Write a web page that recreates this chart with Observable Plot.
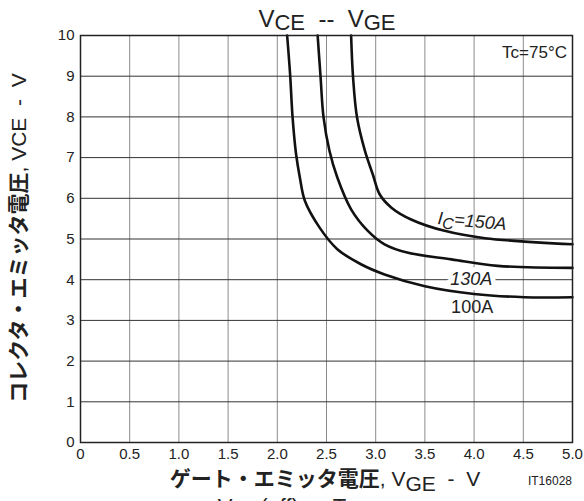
<!DOCTYPE html>
<html><head><meta charset="utf-8">
<script src="https://cdn.jsdelivr.net/npm/d3@7"></script>
<script src="https://cdn.jsdelivr.net/npm/@observablehq/plot@0.6"></script>
<style>body{margin:0;background:#fff;} svg{display:block;}</style>
</head><body><div id="chart"></div>
<script>
const vge100 = [2.10, 2.13, 2.155, 2.19, 2.23, 2.28, 2.43, 2.61, 2.85, 3.09, 3.50, 4.00, 4.51, 5.00];
const vce100 = [10, 9.05, 8.0, 7.1, 6.5, 5.94, 5.28, 4.75, 4.38, 4.13, 3.84, 3.65, 3.57, 3.57];
const vge130 = [2.41, 2.44, 2.47, 2.53, 2.61, 2.75, 2.92, 3.09, 3.33, 3.77, 4.24, 5.00];
const vce130 = [10, 8.97, 7.99, 7.17, 6.51, 5.73, 5.20, 4.87, 4.66, 4.50, 4.34, 4.29];
const vge150 = [2.75, 2.77, 2.81, 2.89, 2.97, 3.04, 3.16, 3.36, 3.70, 4.11, 5.00];
const vce150 = [10, 8.97, 7.99, 7.17, 6.59, 6.10, 5.77, 5.48, 5.20, 5.02, 4.87];
const xTicks = [0, 0.5, 1.0, 1.5, 2.0, 2.5, 3.0, 3.5, 4.0, 4.5, 5.0];
const xTickLabels = ["0", "0.5", "1.0", "1.5", "2.0", "2.5", "3.0", "3.5", "4.0", "4.5", "5.0"];
const yTicks = [0,1,2,3,4,5,6,7,8,9,10];

const series = [
  {name: "150A", x: vge150, y: vce150},
  {name: "130A", x: vge130, y: vce130},
  {name: "100A", x: vge100, y: vce100}
];
const rows = series.flatMap(s => s.x.map((v, i) => ({s: s.name, x: v, y: s.y[i]})));

const font = "'Liberation Sans', Arial, sans-serif";
const plot = Plot.plot({
  width: 584, height: 501,
  marginLeft: 80, marginRight: 12, marginTop: 35, marginBottom: 59,
  x: {domain: [0, 5]},
  y: {domain: [0, 10]},
  style: {fontFamily: font, fontSize: "15px", color: "#222", background: "#fff"},
  marks: [
    Plot.ruleX(xTicks.filter(d => d > 0 && d < 5), {stroke: "#8c8c8c", strokeWidth: 1}),
    Plot.ruleY(yTicks.filter(d => d > 0 && d < 10), {stroke: "#333", strokeWidth: 1}),
    Plot.text([{x: 3.97, y: 4.0}], {x: "x", y: "y", text: () => "130A", fill: "#222", stroke: "white", strokeWidth: 10, fontSize: 18, fontStyle: "italic"}),
    Plot.line(rows, {x: "x", y: "y", z: "s", curve: "catmull-rom", stroke: "#111", strokeWidth: 2.6}),
    Plot.frame({stroke: "#222", strokeWidth: 1.5}),
    Plot.axisX({ticks: xTicks, tickFormat: (d) => xTickLabels[xTicks.indexOf(d)], tickSize: 0, tickPadding: 6, fontSize: 15, label: null}),
    Plot.axisY({ticks: yTicks, tickSize: 0, tickPadding: 6, fontSize: 15, label: null}),
    Plot.text([{x: 3.98, y: 3.33}], {x: "x", y: "y", text: () => "100A", fill: "#222", fontSize: 18})
  ]
});
document.getElementById("chart").appendChild(plot);

const svg = d3.select(plot);
const jp = "'Noto Sans CJK JP', sans-serif";

// title
const t = svg.append("text").attr("x", 327).attr("y", 27).attr("text-anchor", "middle")
  .attr("font-family", font).attr("font-size", 24).attr("fill", "#222");
t.append("tspan").text("V");
t.append("tspan").attr("dy", 3).attr("font-size", 22).text("CE");
t.append("tspan").attr("dy", -3).attr("xml:space", "preserve").text("  --  ");
t.append("tspan").text("V");
t.append("tspan").attr("dy", 3).attr("font-size", 22).text("GE");

// fragment of the next chart's title at the bottom edge
const b = svg.append("text").attr("x", 282).attr("y", 514).attr("text-anchor", "middle")
  .attr("font-family", font).attr("font-size", 22).attr("fill", "#222");
b.append("tspan").text("V");
b.append("tspan").attr("dy", 4).attr("font-size", 20).text("CE");
b.append("tspan").attr("dy", -4).text("(off) — T");

// Tc label
svg.append("text").attr("x", 567).attr("y", 58).attr("text-anchor", "end")
  .attr("font-family", font).attr("font-size", 17).attr("fill", "#222").text("Tc=75°C");

// IC=150A label
const xs = d3.scaleLinear([0,5],[80,572]);
const ys = d3.scaleLinear([0,10],[442,35]);
const ic = svg.append("text").attr("transform", `translate(${xs(3.98)},${ys(5.28)}) rotate(5)`)
  .attr("text-anchor", "middle").attr("font-family", font).attr("font-size", 18)
  .attr("font-style", "italic").attr("fill", "#222");
ic.append("tspan").text("I");
ic.append("tspan").attr("dy", 4).attr("font-size", 16).text("C");
ic.append("tspan").attr("dy", -4).text("=150A");

// x label
const xl = svg.append("text").attr("x", 325).attr("y", 486).attr("text-anchor", "middle").attr("fill", "#222");
xl.append("tspan").attr("font-family", jp).attr("font-weight", "bold").attr("font-size", 21).text("ゲート・エミッタ電圧");
xl.append("tspan").attr("font-family", font).attr("font-size", 21).text(", V");
xl.append("tspan").attr("font-family", font).attr("font-size", 21).attr("dy", 5).text("GE");
xl.append("tspan").attr("font-family", font).attr("font-size", 21).attr("dy", -5).attr("xml:space", "preserve").text("  -  V");

svg.append("text").attr("x", 572).attr("y", 485).attr("text-anchor", "end")
  .attr("font-family", font).attr("font-size", 12).attr("fill", "#222").text("IT16028");

// y label
const yl = svg.append("text").attr("transform", "translate(26,238) rotate(-90)").attr("text-anchor", "middle").attr("fill", "#222");
yl.append("tspan").attr("font-family", jp).attr("font-weight", "bold").attr("font-size", 21).text("コレクタ・エミッタ電圧");
yl.append("tspan").attr("font-family", font).attr("font-size", 21).attr("xml:space", "preserve").text(", VCE  -  V");
</script></body></html>
